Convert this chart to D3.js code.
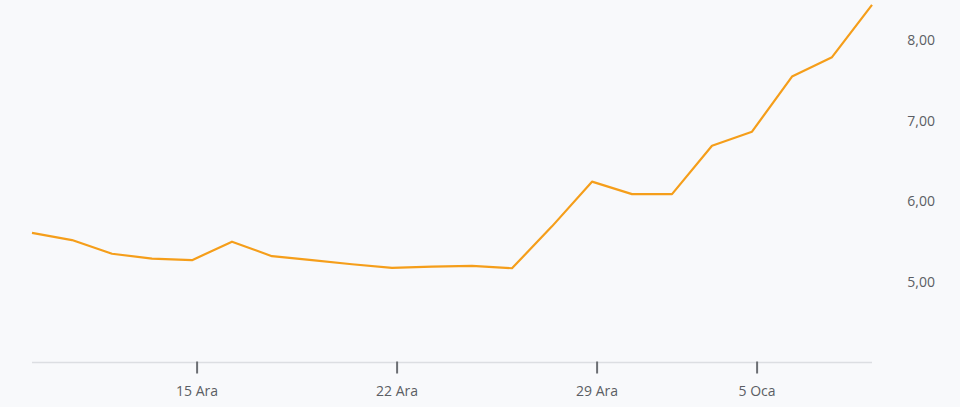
<!DOCTYPE html>
<html>
<head>
<meta charset="utf-8">
<script src="https://cdn.jsdelivr.net/npm/d3@7"></script>
<style>
  html, body { margin: 0; padding: 0; background: #f8f9fb; }
  svg { display: block; }
  text { font-family: "Open Sans", "Noto Sans", sans-serif; }
</style>
</head>
<body>
<svg id="chart" width="960" height="407"></svg>
<script>
// Trading days (index positions) and their labels
const dates = ["9 Ara","10 Ara","11 Ara","12 Ara","15 Ara","16 Ara","17 Ara","18 Ara","19 Ara",
  "22 Ara","23 Ara","24 Ara","25 Ara","26 Ara","29 Ara","30 Ara","31 Ara","2 Oca","5 Oca","6 Oca","7 Oca","8 Oca"];
const values = [5.61, 5.52, 5.35, 5.29, 5.27, 5.50, 5.32, 5.27, 5.22,
  5.175, 5.19, 5.20, 5.17, 5.69, 6.245, 6.09, 6.09, 6.69, 6.865, 7.55, 7.79, 8.44];
const xTickLabels = ["15 Ara", "22 Ara", "29 Ara", "5 Oca"];
const yTicks = [5, 6, 7, 8];
const yDomain = [4, 8.5];

(function () {
  const svg = d3.select("#chart");
  const mLeft = 32, mRight = 872, mTop = 0, mBottom = 362.5;

  const x = d3.scaleLinear().domain([0, dates.length - 1]).range([mLeft, mRight]);
  const y = d3.scaleLinear().domain(yDomain).range([mBottom, mTop]);

  const locale = d3.formatLocale({decimal: ",", thousands: ".", grouping: [3], currency: ["", " TL"]});
  const fmt = locale.format(".2f");

  // X axis baseline
  svg.append("line")
    .attr("x1", x(0)).attr("x2", x(dates.length - 1))
    .attr("y1", mBottom).attr("y2", mBottom)
    .attr("stroke", "#dcdee2").attr("stroke-width", 1.5);

  // X ticks
  const tickIdx = xTickLabels.map(l => dates.indexOf(l));
  const xAxis = d3.axisBottom(x)
    .tickValues(tickIdx)
    .tickSize(12)
    .tickSizeOuter(0)
    .tickPadding(13)
    .tickFormat(i => dates[i]);
  const gx = svg.append("g")
    .attr("transform", `translate(4.6,${mBottom - 1})`)
    .call(xAxis);
  gx.select(".domain").remove();
  gx.selectAll(".tick line").attr("stroke", "#6b6e73").attr("stroke-width", 2);
  gx.selectAll(".tick text").attr("fill", "#5b5e64").attr("font-size", 14);

  // Y axis (right side, labels only)
  const yAxis = d3.axisRight(y).tickValues(yTicks).tickSize(0).tickPadding(0).tickFormat(fmt);
  const gy = svg.append("g").attr("transform", "translate(935,0)").call(yAxis);
  gy.select(".domain").remove();
  gy.selectAll(".tick text")
    .attr("text-anchor", "end")
    .attr("fill", "#5b5e64")
    .attr("font-size", 14);

  // Line
  const line = d3.line().x((d, i) => x(i)).y(d => y(d));
  svg.append("path")
    .datum(values)
    .attr("fill", "none")
    .attr("stroke", "#f59e1a")
    .attr("stroke-width", 2.2)
    .attr("stroke-linejoin", "round")
    .attr("d", line);
})();
</script>
</body>
</html>
